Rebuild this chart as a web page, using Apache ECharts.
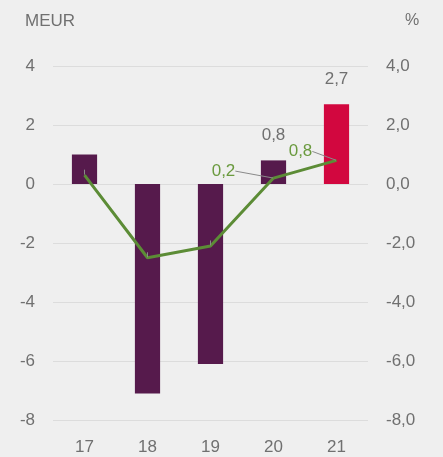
<!DOCTYPE html>
<html>
<head>
<meta charset="utf-8">
<script src="https://cdn.jsdelivr.net/npm/echarts@6/dist/echarts.min.js"></script>
<style>
  html, body { margin: 0; padding: 0; background: #efefef; }
  #chart { width: 443px; height: 457px; }
</style>
</head>
<body>
<div id="chart"></div>
<script>
// data
const years = ['17', '18', '19', '20', '21']
const meur = [1.0, -7.1, -6.1, 0.8, 2.7]
const pct = [0.3, -2.5, -2.1, 0.2, 0.8]
const barColors = ['#561a4c', '#561a4c', '#561a4c', '#561a4c', '#d2073f']
const barLabelShown = [false, false, false, true, true]
const lineLabelShown = [false, false, false, true, true]

const fmt = (v, d) => v.toFixed(d).replace('.', ',')
const grey = '#707070'
const font = 'Liberation Sans'

const chart = echarts.init(document.getElementById('chart'))
const option = {
  backgroundColor: '#efefef',
  animation: false,
  textStyle: { fontFamily: font },
  grid: { left: 53, right: 75, top: 66, bottom: 37 },
  xAxis: {
    type: 'category',
    data: years,
    axisLine: { show: false },
    axisTick: { show: false },
    axisLabel: { color: grey, fontSize: 17, margin: 19 }
  },
  yAxis: [
    {
      type: 'value',
      min: -8, max: 4, interval: 2,
      name: 'MEUR',
      nameLocation: 'end',
      nameGap: 36,
      nameTextStyle: { color: grey, fontSize: 17, align: 'left', padding: [0, 0, 0, -28] },
      axisLabel: { color: grey, fontSize: 17, margin: 18 },
      splitLine: { lineStyle: { color: '#dcdcdc' } }
    },
    {
      type: 'value',
      min: -8, max: 4, interval: 2,
      name: '%',
      nameLocation: 'end',
      nameGap: 37,
      nameTextStyle: { color: grey, fontSize: 16, align: 'left', padding: [0, 0, 0, 37] },
      axisLabel: { color: grey, fontSize: 17, margin: 18, formatter: v => fmt(v, 1) },
      splitLine: { show: false }
    }
  ],
  series: [
    {
      type: 'bar',
      barWidth: '40%',
      data: meur.map((v, i) => ({
        value: v,
        itemStyle: { color: barColors[i] },
        label: {
          show: barLabelShown[i],
          position: 'top',
          distance: 17,
          color: grey,
          fontSize: 17,
          formatter: p => fmt(p.value, 1)
        }
      }))
    },
    {
      type: 'line',
      yAxisIndex: 1,
      data: pct,
      symbol: 'circle',
      symbolSize: 1,
      showSymbol: true,
      lineStyle: { color: '#5c8c36', width: 3 },
      itemStyle: { color: 'rgba(0,0,0,0)' },
      label: {
        show: true,
        color: '#6a9a3e',
        fontSize: 17,
        formatter: p => lineLabelShown[p.dataIndex] ? fmt(p.value, 1) : ''
      },
      labelLine: { show: true, lineStyle: { color: '#8a8a8a', width: 1 } },
      labelLayout: p => {
        if (p.dataIndex === 3) return { dx: -50, dy: 7 }
        if (p.dataIndex === 4) return { dx: -36, dy: 5 }
        return {}
      }
    }
  ]
}
chart.setOption(option)
</script>
</body>
</html>
